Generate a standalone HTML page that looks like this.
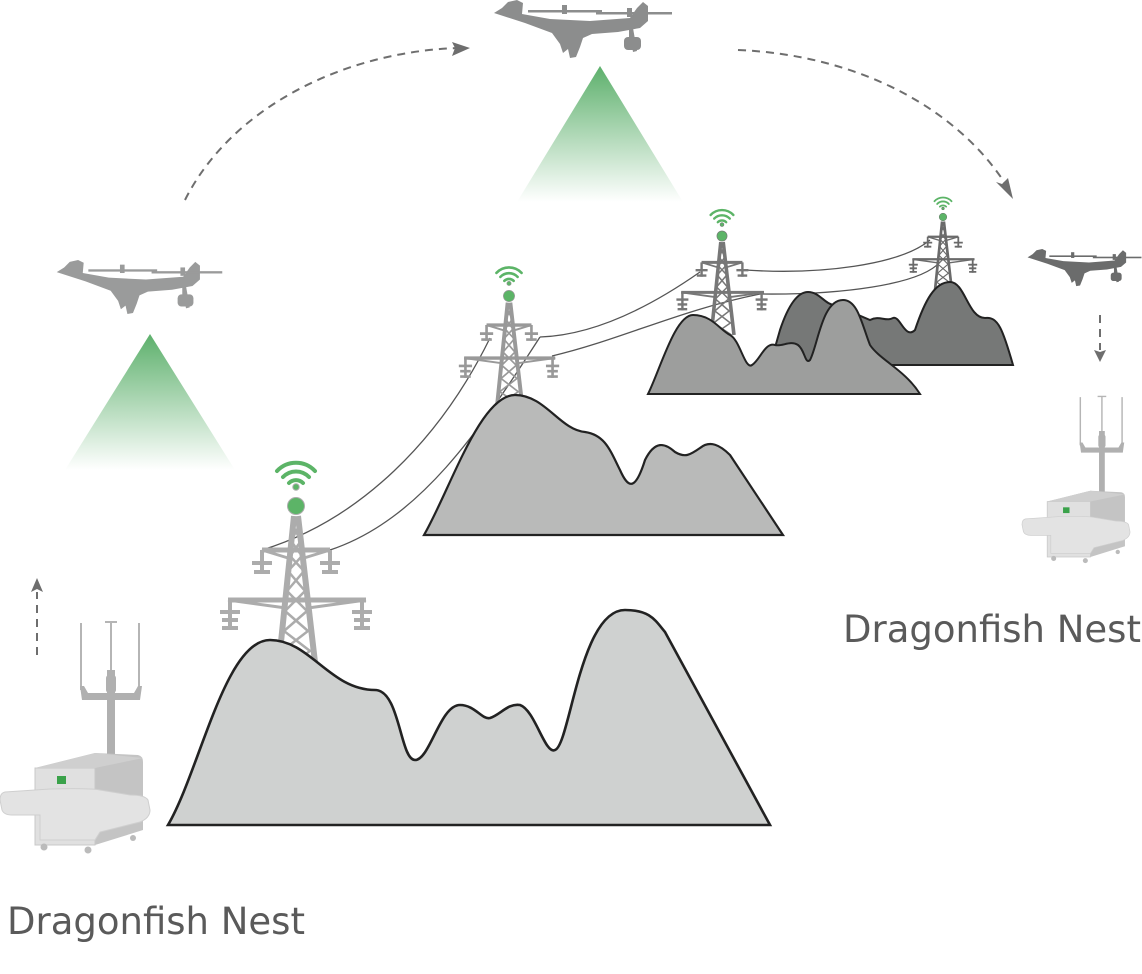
<!DOCTYPE html>
<html><head><meta charset="utf-8"><style>html,body{margin:0;padding:0;background:#fff}svg{display:block}</style></head>
<body>
<svg width="1142" height="974" viewBox="0 0 1142 974" xmlns="http://www.w3.org/2000/svg">
<defs>
<linearGradient id="g" x1="0" y1="0" x2="0" y2="1">
<stop offset="0" stop-color="#5db06c"/><stop offset="1" stop-color="#5db06c" stop-opacity="0"/>
</linearGradient>
<g id="drone">
<path d="M4,13 L12,8 L18,2 L27,0 L33,3 L32,14 L60,19 L100,21 L140,18 L147,8 L153,2 L158,6 L158,21 L150,28 L128,32 L102,34 L93,38 L90,47 L86,57 L80,58 L78,49 L73,53 L70,44 L62,33 L35,23 Z"/>
<rect x="38" y="10" width="74" height="2.5"/>
<rect x="106" y="12" width="76" height="2.5"/>
<rect x="72" y="5" width="5" height="9"/>
<rect x="137" y="8" width="5" height="9"/>
<path d="M139,28 L143,28 L147,51 L143,52 Z"/>
<rect x="134" y="37" width="17" height="13" rx="4"/>
<rect x="139" y="28" width="3" height="10"/>
</g>
<g id="tower">
<g fill="#5cb467"><circle cx="0" cy="0" r="8.5"/><circle cx="0" cy="-19" r="3.2"/></g>
<g fill="none" stroke="#5cb467" stroke-width="4" stroke-linecap="round">
<path d="M-7,-23 A10,10 0 0 1 7,-23"/>
<path d="M-13,-29 A18,18 0 0 1 13,-29"/>
<path d="M-19,-35 A26,26 0 0 1 19,-35"/>
</g>
<g fill="none" stroke-width="6">
<path d="M-2,10 L-18,165 M2,10 L20,165"/>
<path stroke-width="2.5" d="M-3,20 L5,35 L-6,50 L8,65 L-9,85 L11,105 L-12,125 L14,145 L-15,165 M3,20 L-5,35 L6,50 L-8,65 L9,85 L-11,105 L12,125 L-14,145 L16,165"/>
<path stroke-width="5" d="M-34,44 L34,44 M-68,94 L70,94"/>
<path stroke-width="3" d="M-34,44 L-8,52 M34,44 L8,52 M-68,94 L-10,102 M70,94 L12,102"/>
<path stroke-width="4" d="M-34,44 V68 M34,44 V68 M-66,94 V124 M66,94 V124"/>
<path stroke-width="4" d="M-44,57 H-24 M-42,66 H-26 M24,57 H44 M26,66 H42 M-76,106 H-56 M-74,114 H-58 M-74,122 H-58 M56,106 H76 M58,114 H74 M58,122 H74"/>
</g>
</g>
<g id="nest">
<g stroke="#b5b5b5" stroke-width="2" fill="none"><path d="M81,623 V690 M111,623 V680 M139,623 V690 M105,622 H117"/></g>
<g fill="#b0b0b0">
<rect x="107" y="670" width="8" height="88"/>
<rect x="106" y="675" width="10" height="18" rx="3"/>
<path d="M80,686 L84,686 L88,693 L134,693 L138,686 L142,686 L140,700 L82,700 Z"/>
</g>
<path d="M35,768 L95,753 L138,755 Q143,756 143,762 L143,830 L95,845 L35,845 Z" fill="#c4c4c4"/>
<path d="M35,768 L95,768 L95,845 L35,845 Z" fill="#e0e0e0" stroke="#c8c8c8"/>
<path d="M35,768 L95,768 L143,758 L95,753 Z" fill="#cfcfcf"/>
<rect x="57" y="776" width="9" height="8" fill="#3aa24a"/>
<path d="M5,792 Q0,793 0,800 L2,810 Q4,815 12,815 L40,815 L40,840 L95,840 L100,832 L140,822 Q150,818 150,810 L148,800 Q145,795 130,795 L100,790 Q90,788 50,789 Z" fill="#e3e3e3" stroke="#cfcfcf"/>
<circle cx="44" cy="847" r="3.5" fill="#bbb"/><circle cx="88" cy="850" r="3.5" fill="#bbb"/><circle cx="133" cy="838" r="3" fill="#bbb"/>
</g>
</defs>

<g fill="none" stroke="#6e6e6e" stroke-width="2" stroke-dasharray="8,6">
<path d="M185,200 C230,110 340,52 458,48"/>
<path d="M738,50 C860,55 960,110 1008,188"/>
<path d="M37,655 V592"/>
<path d="M1100,315 V350"/>
</g>
<g fill="#6e6e6e">
<path d="M470,48 L452,42 L455,48 L452,56 Z"/>
<path d="M1013,199 L996,182 L1002,184 L1008,178 Z"/>
<path d="M37,578 L31,592 L37,589 L43,592 Z"/>
<path d="M1100,362 L1094,350 L1100,352 L1106,350 Z"/>
</g>

<path d="M600,66 L517,202 L683,202 Z" fill="url(#g)"/>
<path d="M150,334 L65,470 L235,470 Z" fill="url(#g)"/>

<use href="#drone" fill="#8c8d8d" transform="translate(490,0)"/>
<use href="#drone" fill="#9a9b9b" transform="translate(53,260) scale(0.93)"/>
<use href="#drone" fill="#6b6c6c" transform="translate(1025,249) scale(0.64)"/>

<g fill="none" stroke="#555" stroke-width="1.3">
<path d="M262,550 C360,520 440,440 490,338"/>
<path d="M330,550 C420,520 480,430 540,337"/>
<path d="M540,337 C600,335 660,300 700,272"/>
<path d="M552,356 C620,340 680,310 760,294"/>
<path d="M745,270 C820,275 900,265 930,240"/>
<path d="M760,294 C840,295 920,285 940,262"/>
</g>

<use href="#tower" stroke="#6a6a6a" fill="#6a6a6a" transform="translate(943,217) scale(0.45)"/>
<path d="M770,365 L780,330 C790,300 800,292 808,292 C820,292 825,305 835,305 L870,320 C880,315 885,322 893,318 C900,315 905,340 915,330 C925,300 935,282 950,282 C965,282 968,318 985,318 C998,316 1003,330 1013,365 Z" fill="#767877" stroke="#222" stroke-width="2"/>
<use href="#tower" stroke="#777" fill="#777" transform="translate(722,236) scale(0.6)"/>
<path d="M648,394 C660,370 675,315 693,315 C712,315 720,330 730,335 C740,340 745,370 752,365 C760,360 765,342 775,345 C782,347 790,340 798,345 C805,350 805,365 810,360 C818,345 822,300 843,300 C858,300 862,325 870,345 C880,360 905,370 920,394 Z" fill="#9d9e9d" stroke="#222" stroke-width="2"/>
<use href="#tower" stroke="#999" fill="#999" transform="translate(509,296) scale(0.66)"/>
<path d="M424,535 C450,490 480,395 515,395 C545,395 560,430 585,432 C605,435 610,450 620,470 C628,488 635,492 645,460 C655,440 665,443 675,452 C685,458 690,455 700,448 C710,440 720,445 730,455 L783,535 Z" fill="#b9bab9" stroke="#222" stroke-width="2.2"/>
<use href="#tower" stroke="#acacac" fill="#acacac" transform="translate(296,506)"/>
<path d="M168,825 C200,770 225,640 270,640 C310,640 330,690 375,690 C400,690 400,760 415,760 C430,760 440,705 460,705 C475,705 482,720 490,718 C500,715 508,703 520,705 C535,710 545,755 555,750 C570,745 580,610 625,610 C650,610 655,620 665,632 L770,825 Z" fill="#cfd1d0" stroke="#222" stroke-width="2.6"/>

<use href="#nest"/>
<use href="#nest" transform="translate(1022,-51.4) scale(0.72)"/>

<g font-family="'DejaVu Sans','Liberation Sans',sans-serif" font-size="37" fill="#5a5a5a">
<text x="7" y="934">Dragonfish Nest</text>
<text x="843" y="642">Dragonfish Nest</text>
</g>
</svg>
</body></html>
